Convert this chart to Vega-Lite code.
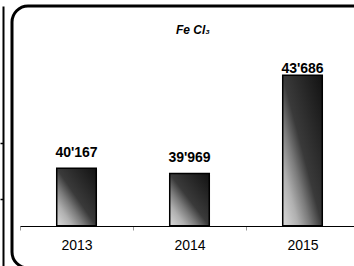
{
  "$schema": "https://vega.github.io/schema/vega-lite/v6.json",
  "width": 380,
  "height": 262,
  "autosize": {"type": "none"},
  "padding": {"left": 12, "top": 6, "right": 0, "bottom": 0},
  "config": {
    "locale": {"number": {"decimal": ".", "thousands": "'", "grouping": [3], "currency": ["", ""]}},
    "view": {"stroke": "black", "strokeWidth": 3, "cornerRadius": 16, "fill": "white"},
    "font": "Liberation Sans"
  },
  "title": {
    "text": "Fe Cl₃",
    "font": "Liberation Sans",
    "fontSize": 12,
    "fontStyle": "italic",
    "fontWeight": "bold",
    "color": "black",
    "anchor": "start",
    "frame": "group",
    "offset": -31,
    "dx": 164
  },
  "data": {
    "values": [
      {"year": "2013", "value": 40167},
      {"year": "2014", "value": 39969},
      {"year": "2015", "value": 43686}
    ]
  },
  "layer": [
    {
      "mark": {
        "type": "bar",
        "width": {"band": 0.35},
        "stroke": "black",
        "strokeWidth": 1.5,
        "fill": {
          "gradient": "linear",
          "x1": 0, "y1": 1, "x2": 1, "y2": 0,
          "stops": [
            {"offset": 0, "color": "#dadada"},
            {"offset": 0.2, "color": "#b0b0b0"},
            {"offset": 0.35, "color": "#7a7a7a"},
            {"offset": 0.5, "color": "#3a3a3a"},
            {"offset": 1, "color": "#121212"}
          ]
        }
      },
      "encoding": {
        "x": {
          "field": "year",
          "type": "ordinal",
          "scale": {"range": [8, 347], "paddingInner": 0, "paddingOuter": 0},
          "axis": {
            "title": null,
            "orient": "bottom",
            "offset": -42,
            "domainColor": "black",
            "domainWidth": 1.2,
            "tickColor": "#999999",
            "tickSize": 4,
            "tickBand": "extent",
            "labelAngle": 0,
            "labelFont": "Liberation Sans",
            "labelFontSize": 14,
            "labelColor": "black",
            "labelPadding": 8
          }
        },
        "y": {
          "field": "value",
          "type": "quantitative",
          "scale": {"domain": [36400, 46300], "nice": false, "zero": false},
          "axis": {
            "title": null,
            "orient": "left",
            "offset": 9,
            "labels": false,
            "grid": false,
            "values": [41123, 39007],
            "domainColor": "black",
            "domainWidth": 2,
            "tickColor": "black",
            "tickWidth": 1.5,
            "tickSize": 3
          }
        },
        "y2": {"datum": 38000}
      }
    },
    {
      "mark": {"type": "text", "fontWeight": "bold", "fontSize": 14, "font": "Liberation Sans", "baseline": "alphabetic", "color": "black"},
      "encoding": {
        "x": {"field": "year", "type": "ordinal"},
        "y": {
          "field": "value",
          "type": "quantitative",
          "scale": {"domain": [35972, 43342], "range": [262, 67], "clamp": true, "nice": false, "zero": false},
          "axis": null
        },
        "text": {"field": "value", "type": "quantitative", "format": ",d"}
      }
    }
  ],
  "resolve": {"scale": {"y": "independent"}}
}
